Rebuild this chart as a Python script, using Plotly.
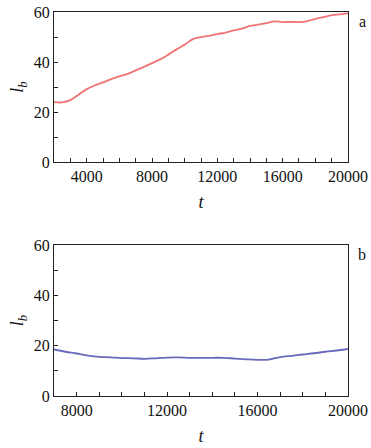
import plotly.graph_objects as go

# panel a: l_b versus t
t_a = [2000, 2500, 3000, 3500, 4000, 4500, 5000, 5500, 6000, 6500, 7000, 7500,
       8000, 8500, 9000, 9500, 10000, 10500, 11000, 11500, 12000, 12500, 13000,
       13500, 14000, 14500, 15000, 15500, 16000, 16500, 17000, 17500, 18000,
       18500, 19000, 19500, 20000]
lb_a = [24.0, 23.9, 24.8, 27.0, 29.2, 30.7, 31.9, 33.2, 34.3, 35.3, 36.7, 38.1,
        39.6, 41.1, 43.0, 45.1, 47.0, 49.2, 50.0, 50.5, 51.2, 51.8, 52.7,
        53.4, 54.5, 55.0, 55.6, 56.3, 56.0, 56.1, 56.0, 56.4, 57.3,
        58.0, 58.8, 59.1, 59.5]

# panel b
t_b = [7000, 7500, 8000, 8500, 9000, 9500, 10000, 10500, 11000, 11500, 12000,
       12500, 13000, 13500, 14000, 14500, 15000, 15500, 16000, 16500, 17000,
       17500, 18000, 18500, 19000, 19500, 20000]
lb_b = [18.5, 17.6, 16.9, 16.1, 15.6, 15.4, 15.1, 15.0, 14.8, 15.0, 15.3,
        15.4, 15.2, 15.2, 15.2, 15.2, 14.9, 14.6, 14.4, 14.5, 15.5,
        16.0, 16.5, 17.0, 17.6, 18.1, 18.7]

serif = "Liberation Serif, DejaVu Serif, serif"
axcol = "#222222"

fig = go.Figure()
fig.add_trace(go.Scatter(x=t_a, y=lb_a, mode="lines", line=dict(color="#f07474", width=1.8),
                         line_shape="spline", xaxis="x", yaxis="y", showlegend=False))
fig.add_trace(go.Scatter(x=t_b, y=lb_b, mode="lines", line=dict(color="#6a6abd", width=1.8),
                         line_shape="spline", xaxis="x2", yaxis="y2", showlegend=False))

common = dict(showline=True, linecolor=axcol, linewidth=1, mirror=True, showgrid=False,
              zeroline=False, ticks="inside", ticklen=4, tickcolor=axcol, automargin=False,
              ticklabeloverflow="allow",
              tickfont=dict(family=serif, size=16, color="#111"))

xa = dict(common, range=[2000, 20000], tick0=0, dtick=4000, tickformat="d",
          minor=dict(ticks="inside", dtick=1000, ticklen=4, tickcolor=axcol),
          domain=[0.1456, 0.938], anchor="y",
          title=dict(text="<i>t</i>", font=dict(family=serif, size=18, color="#111"), standoff=11))
ya = dict(common, range=[0, 60], dtick=20,
          minor=dict(ticks="inside", dtick=10, ticklen=4, tickcolor=axcol),
          domain=[0.638, 0.973], anchor="x",
          title=dict(text="<i>l</i><sub><i>b</i></sub>", font=dict(family=serif, size=18, color="#111"), standoff=5))
xb = dict(xa, range=[7000, 20000], anchor="y2")
yb = dict(ya, domain=[0.116, 0.453], anchor="x2")

fig.update_layout(
    width=371, height=448, margin=dict(l=0, r=0, t=0, b=0),
    plot_bgcolor="white", paper_bgcolor="white",
    xaxis=xa, yaxis=ya, xaxis2=xb, yaxis2=yb,
    annotations=[
        dict(text="a", x=0.978, y=0.951, xref="paper", yref="paper", showarrow=False,
             font=dict(family=serif, size=16, color="#111"), xanchor="center", yanchor="middle"),
        dict(text="b", x=0.976, y=0.431, xref="paper", yref="paper", showarrow=False,
             font=dict(family=serif, size=16, color="#111"), xanchor="center", yanchor="middle"),
    ],
)

# drop the default page margin so the figure sits at the window's corner
fig.write_html("out.html", config={"displayModeBar": False},
               post_script="document.body.style.margin='0';")
